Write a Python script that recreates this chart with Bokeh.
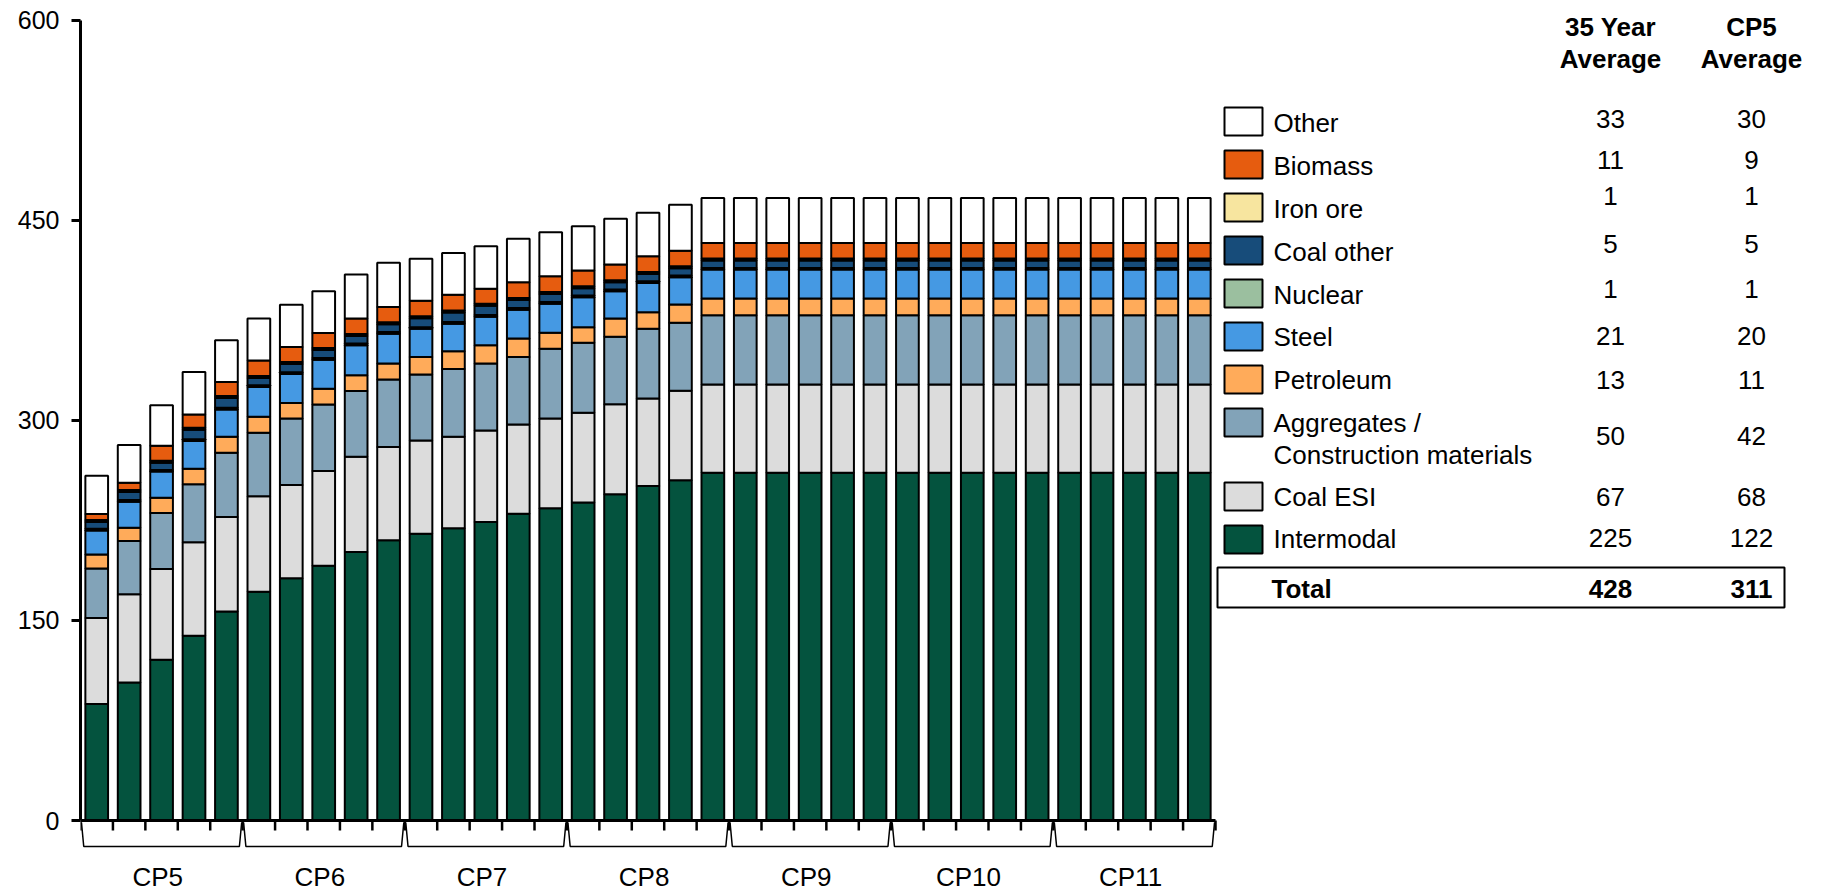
from bokeh.plotting import figure
from bokeh.models import Range1d, FixedTicker, ColumnDataSource
from bokeh.core.properties import value
from bokeh.embed import file_html
from bokeh.resources import INLINE

# ---------------- data ----------------
periods = ["CP5", "CP6", "CP7", "CP8", "CP9", "CP10", "CP11"]
years_per_period = 5

intermodal = [87.3, 103.5, 120.5, 138.5, 156.7, 171.4, 181.5, 190.9, 201.3, 210.1,
              215.0, 219.1, 223.8, 230.0, 234.0, 238.3, 244.5, 250.7, 255.0, 260.7,
              260.7, 260.7, 260.7, 260.7, 260.7, 260.7, 260.7, 260.7, 260.7, 260.7,
              260.7, 260.7, 260.7, 260.7, 260.7]
coal_esi = [64.5, 66.0, 68.0, 70.0, 70.8, 71.6, 70.0, 71.1, 71.4, 69.8,
            69.9, 68.5, 68.6, 66.8, 67.4, 67.3, 67.4, 65.6, 67.2, 66.1,
            66.1, 66.1, 66.1, 66.1, 66.1, 66.1, 66.1, 66.1, 66.1, 66.1,
            66.1, 66.1, 66.1, 66.1, 66.1]
aggregates = [37.0, 40.0, 42.0, 43.5, 48.2, 47.7, 49.8, 49.8, 49.2, 50.7,
              49.4, 50.8, 50.2, 50.7, 52.1, 52.4, 50.6, 52.2, 50.8, 51.9,
              51.9, 51.9, 51.9, 51.9, 51.9, 51.9, 51.9, 51.9, 51.9, 51.9,
              51.9, 51.9, 51.9, 51.9, 51.9]
petroleum = [10.5, 10.0, 11.5, 11.7, 11.9, 11.9, 11.7, 11.9, 11.9, 11.9,
             13.2, 13.4, 13.7, 13.7, 12.0, 11.8, 13.8, 12.5, 13.7, 12.5,
             12.5, 12.5, 12.5, 12.5, 12.5, 12.5, 12.5, 12.5, 12.5, 12.5,
             12.5, 12.5, 12.5, 12.5, 12.5]
steel = [18.0, 19.5, 19.5, 20.7, 20.5, 22.3, 21.7, 21.7, 22.5, 22.4,
         21.0, 20.6, 21.2, 21.7, 21.9, 22.4, 20.4, 21.8, 20.5, 21.7,
         21.7, 21.7, 21.7, 21.7, 21.7, 21.7, 21.7, 21.7, 21.7, 21.7,
         21.7, 21.7, 21.7, 21.7, 21.7]
nuclear = [1.3, 1.3, 1.3, 1.3, 1.3, 1.3, 1.3, 1.3, 1.3, 1.3,
           1.3, 1.3, 1.3, 1.3, 1.3, 1.3, 1.3, 1.3, 1.3, 1.3,
           1.3, 1.3, 1.3, 1.3, 1.3, 1.3, 1.3, 1.3, 1.3, 1.3,
           1.3, 1.3, 1.3, 1.3, 1.3]
coal_other = [5.1, 5.9, 5.4, 7.2, 7.2, 5.4, 6.1, 6.0, 5.6, 5.8,
              6.7, 7.1, 7.1, 6.0, 5.9, 5.4, 5.4, 5.6, 5.4, 5.5,
              5.5, 5.5, 5.5, 5.5, 5.5, 5.5, 5.5, 5.5, 5.5, 5.5,
              5.5, 5.5, 5.5, 5.5, 5.5]
iron_ore = [1.5, 1.5, 1.5, 1.5, 1.5, 1.5, 1.5, 1.5, 1.5, 1.5,
            1.5, 1.5, 1.5, 1.5, 1.5, 1.5, 1.5, 1.5, 1.5, 1.5,
            1.5, 1.5, 1.5, 1.5, 1.5, 1.5, 1.5, 1.5, 1.5, 1.5,
            1.5, 1.5, 1.5, 1.5, 1.5]
biomass = [4.6, 5.5, 11.2, 9.9, 10.5, 11.7, 11.3, 11.2, 11.5, 11.4,
           11.6, 11.7, 11.2, 11.7, 11.8, 11.8, 11.8, 11.7, 11.7, 11.7,
           11.7, 11.7, 11.7, 11.7, 11.7, 11.7, 11.7, 11.7, 11.7, 11.7,
           11.7, 11.7, 11.7, 11.7, 11.7]
other = [28.6, 28.3, 30.3, 31.8, 31.4, 31.5, 31.7, 31.3, 33.0, 33.2,
         31.4, 31.3, 31.8, 32.6, 33.0, 33.2, 34.3, 32.6, 34.4, 33.6,
         33.6, 33.6, 33.6, 33.6, 33.6, 33.6, 33.6, 33.6, 33.6, 33.6,
         33.6, 33.6, 33.6, 33.6, 33.6]

# legend table (top to bottom)
legend_labels = ["Other", "Biomass", "Iron ore", "Coal other", "Nuclear", "Steel",
                 "Petroleum", "Aggregates /\nConstruction materials", "Coal ESI", "Intermodal"]
avg_35_year = [33, 11, 1, 5, 1, 21, 13, 50, 67, 225]
avg_cp5 = [30, 9, 1, 5, 1, 20, 11, 42, 68, 122]
total_35_year = 428
total_cp5 = 311
header_35 = "35 Year\nAverage"
header_cp5 = "CP5\nAverage"

# ---------------- styles ----------------
stack_keys = ["intermodal", "coal_esi", "aggregates", "petroleum", "steel",
              "nuclear", "coal_other", "iron_ore", "biomass", "other"]
stack_colors = ["#04533E", "#DCDCDC", "#82A3B8", "#FFAB5A", "#4599E3",
                "#9BBF9F", "#174C7A", "#F7E59F", "#E65C0F", "#FFFFFF"]
legend_colors = ["#FFFFFF", "#E65C0F", "#F7E59F", "#174C7A", "#9BBF9F",
                 "#4599E3", "#FFAB5A", "#82A3B8", "#DCDCDC", "#04533E"]
FONT = "Liberation Sans"

# ---------------- geometry (page pixels) ----------------
n_bars = len(intermodal)
W, H = 1827, 892
ML = 80                 # page x of the y axis
PY0 = 820.0             # page y of value 0
XS = 1135.0 / n_bars    # px per bar slot
K = 800.5 / 600.0       # px per unit value
x_end = (W - ML) / XS
y_end = PY0 / K
y_start = -(H - PY0) / K


def dx(px):
    return (px - ML) / XS


def dy(py):
    return (PY0 - py) / K


p = figure(width=W, height=H, x_range=Range1d(0, x_end), y_range=Range1d(y_start, y_end),
           output_backend="svg", toolbar_location=None, x_axis_location=None,
           min_border_left=ML, min_border_top=0, min_border_bottom=0, min_border_right=0)
p.outline_line_color = None
p.xgrid.visible = False
p.ygrid.visible = False
p.background_fill_color = "white"
p.border_fill_color = "white"

# y axis
ya = p.yaxis[0]
ya.ticker = FixedTicker(ticks=[0, 150, 300, 450, 600])
ya.bounds = (0, 600)
ya.axis_line_width = 3
ya.axis_line_color = "black"
ya.major_tick_line_width = 3
ya.major_tick_line_color = "black"
ya.major_tick_out = 9
ya.major_tick_in = 0
ya.minor_tick_line_color = None
ya.major_label_text_font = FONT
ya.major_label_text_font_size = "25px"
ya.major_label_text_color = "black"
ya.major_label_standoff = 12

# stacked bars
src = ColumnDataSource(dict(
    x=[i + 0.5 for i in range(n_bars)],
    intermodal=intermodal, coal_esi=coal_esi, aggregates=aggregates,
    petroleum=petroleum, steel=steel, nuclear=nuclear, coal_other=coal_other,
    iron_ore=iron_ore, biomass=biomass, other=other))
p.vbar_stack(stack_keys, x="x", width=0.7, color=stack_colors, line_color="black",
             line_width=2, source=src)

# x axis line and ticks
p.segment(x0=[0], y0=[0], x1=[n_bars], y1=[0], line_color="black", line_width=3)
tick_x = list(range(n_bars + 1))
p.segment(x0=tick_x, y0=[0] * len(tick_x), x1=tick_x, y1=[dy(830)] * len(tick_x),
          line_color="black", line_width=2.5)

# period brackets and labels
bx, by = [], []
for g in range(len(periods)):
    a = g * years_per_period
    b = a + years_per_period
    bx.append([a + 0.03, a + 0.1, b - 0.1, b - 0.03])
    by.append([dy(822), dy(846), dy(846), dy(822)])
p.multi_line(bx, by, line_color="black", line_width=1.5)
p.text(x=[g * years_per_period + years_per_period / 2 - 0.12 for g in range(len(periods))],
       y=[dy(876)] * len(periods), text=periods, text_font=value(FONT),
       text_font_size="26px", text_align="center", text_baseline="middle",
       text_color="black")

# ---------------- legend table ----------------
sw_top = [107, 150, 193, 236, 279, 322, 365, 408, 482, 525]
sw_h = 28
text_y = [122, 165, 208, 251, 294, 336, 379, 422, 496, 538]
val_y = [118, 159, 195, 243, 288, 335, 379, 435, 496, 537]
p.quad(left=[dx(1224)] * 10, right=[dx(1262)] * 10,
       top=[dy(t) for t in sw_top], bottom=[dy(t + sw_h) for t in sw_top],
       fill_color=legend_colors, line_color="black", line_width=2)

lab_x, lab_y, lab_t = [], [], []
for lbl, ty in zip(legend_labels, text_y):
    lines = lbl.split("\n")
    for j, ln in enumerate(lines):
        lab_x.append(dx(1273))
        lab_y.append(dy(ty + j * 32))
        lab_t.append(ln)
p.text(x=lab_x, y=lab_y, text=lab_t, text_font=value(FONT), text_font_size="26px",
       text_align="left", text_baseline="middle", text_color="black")

p.text(x=[dx(1610)] * 10 + [dx(1751)] * 10, y=[dy(v) for v in val_y] * 2,
       text=[str(v) for v in avg_35_year] + [str(v) for v in avg_cp5],
       text_font=value(FONT), text_font_size="26px", text_align="center",
       text_baseline="middle", text_color="black")

# headers
hx, hy, ht = [], [], []
for cx, hdr in ((1610, header_35), (1751, header_cp5)):
    for j, ln in enumerate(hdr.split("\n")):
        hx.append(dx(cx))
        hy.append(dy(26 + j * 32))
        ht.append(ln)
p.text(x=hx, y=hy, text=ht, text_font=value(FONT), text_font_size="26px",
       text_font_style="bold", text_align="center", text_baseline="middle",
       text_color="black")

# total row
p.quad(left=[dx(1217)], right=[dx(1784)], top=[dy(567)], bottom=[dy(607)],
       fill_color="white", line_color="black", line_width=2)
p.text(x=[dx(1271)], y=[dy(588)], text=["Total"], text_font=value(FONT),
       text_font_size="26px", text_font_style="bold", text_align="left",
       text_baseline="middle", text_color="black")
p.text(x=[dx(1610), dx(1751)], y=[dy(588)] * 2, text=[str(total_35_year), str(total_cp5)],
       text_font=value(FONT), text_font_size="26px", text_font_style="bold",
       text_align="center", text_baseline="middle", text_color="black")

open("out.html", "w").write(file_html(p, INLINE))
